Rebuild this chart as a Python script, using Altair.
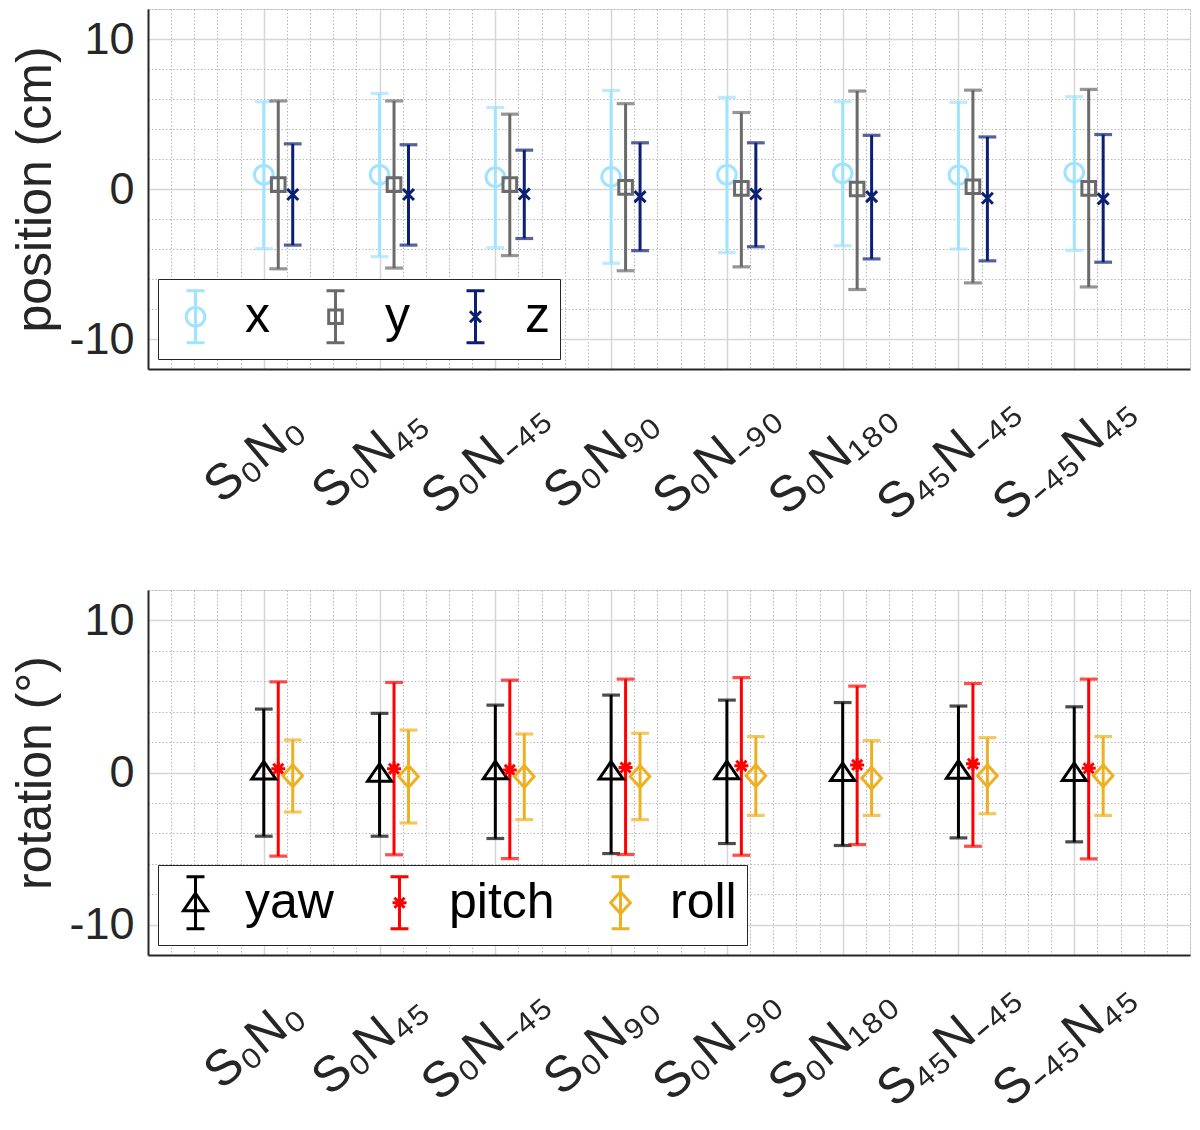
import json
import altair as alt
import pandas as pd

# ---------------- data ----------------
conditions = ["S₀N₀", "S₀N₄₅", "S₀N₋₄₅", "S₀N₉₀", "S₀N₋₉₀", "S₀N₁₈₀", "S₄₅N₋₄₅", "S₋₄₅N₄₅"]

pos_series = ["x", "y", "z"]
pos_x_mean = [0.95, 0.95, 0.79, 0.81, 0.95, 1.05, 0.92, 1.10]
pos_x_hi = [5.82, 6.37, 5.43, 6.57, 6.11, 5.82, 5.78, 6.15]
pos_x_lo = [-3.98, -4.51, -3.91, -4.95, -4.24, -3.78, -4.00, -4.09]
pos_y_mean = [0.29, 0.29, 0.29, 0.11, 0.04, 0.00, 0.15, 0.04]
pos_y_hi = [5.87, 5.87, 4.99, 5.69, 5.10, 6.53, 6.59, 6.64]
pos_y_lo = [-5.32, -5.27, -4.44, -5.45, -5.19, -6.70, -6.26, -6.53]
pos_z_mean = [-0.37, -0.37, -0.33, -0.51, -0.33, -0.51, -0.62, -0.66]
pos_z_hi = [3.01, 2.95, 2.59, 3.08, 3.08, 3.58, 3.47, 3.63]
pos_z_lo = [-3.74, -3.74, -3.30, -4.11, -3.85, -4.66, -4.79, -4.88]

rot_series = ["yaw", "pitch", "roll"]
yaw_mean = [0.10, -0.05, 0.12, 0.10, 0.12, 0.00, 0.15, 0.00]
yaw_hi = [4.17, 3.89, 4.43, 5.09, 4.76, 4.60, 4.37, 4.32]
yaw_lo = [-4.19, -4.19, -4.34, -5.33, -4.67, -4.80, -4.30, -4.56]
pitch_mean = [0.24, 0.24, 0.17, 0.33, 0.44, 0.50, 0.57, 0.28]
pitch_hi = [5.96, 5.92, 6.07, 6.14, 6.24, 5.68, 5.85, 6.14]
pitch_lo = [-5.50, -5.41, -5.66, -5.39, -5.44, -4.74, -4.85, -5.68]
roll_mean = [-0.22, -0.26, -0.26, -0.26, -0.22, -0.37, -0.22, -0.22]
roll_hi = [2.14, 2.79, 2.53, 2.58, 2.36, 2.10, 2.29, 2.36]
roll_lo = [-2.60, -3.32, -3.10, -3.10, -2.82, -2.82, -2.71, -2.82]

series_offsets = [0.0, 0.125, 0.25]

pos_colors = ["#A0E3FF", "#6A6A6A", "#0B1F73"]
rot_colors = ["#000000", "#FF0000", "#EDB120"]

FONT = "Liberation Sans"


# ---------------- marker paths (style) ----------------
def f(v):
    return f"{v:.3f}"


def circle_p(r, u):
    r = r / u
    return f"M{f(r)},0A{f(r)},{f(r)} 0 1,1 {f(-r)},0A{f(r)},{f(r)} 0 1,1 {f(r)},0Z"


def square_p(h, u):
    h = h / u
    return f"M{f(-h)},{f(-h)}H{f(h)}V{f(h)}H{f(-h)}Z"


def xmark_p(h, u):
    h = h / u
    return f"M{f(-h)},{f(-h)}L{f(h)},{f(h)}M{f(-h)},{f(h)}L{f(h)},{f(-h)}"


def tri_p(hw, top, bot, u):
    return f"M0,{f(top/u)}L{f(hw/u)},{f(bot/u)}L{f(-hw/u)},{f(bot/u)}Z"


def aster_p(h, u):
    d = h * 0.72 / u
    h = h / u
    return (f"M{f(-h)},0H{f(h)}M0,{f(-h)}V{f(h)}"
            f"M{f(-d)},{f(-d)}L{f(d)},{f(d)}M{f(-d)},{f(d)}L{f(d)},{f(-d)}")


def diamond_p(hw, hh, u):
    return f"M0,{f(-hh/u)}L{f(hw/u)},0L0,{f(hh/u)}L{f(-hw/u)},0Z"


def ebar_p(half, cap, u):
    h = half / u
    c = cap / u
    return f"M0,{f(-h)}V{f(h)}M{f(-c)},{f(-h)}H{f(c)}M{f(-c)},{f(h)}H{f(c)}"


U_PT = 12.0   # px per path unit for plot markers  (size = (2*U)^2)
U_LG = 26.0   # px per path unit for legend glyphs
PT_SIZE = (2 * U_PT) ** 2
LG_SIZE = (2 * U_LG) ** 2


def marker_defs(u):
    return {
        "x": circle_p(9.3, u),
        "y": square_p(6.8, u),
        "z": xmark_p(5.5, u),
        "yaw": tri_p(12.0, -9.5, 8.0, u),
        "pitch": aster_p(7.0, u),
        "roll": diamond_p(9.8, 11.0, u),
    }


pt_paths = marker_defs(U_PT)
lg_marks = marker_defs(U_LG)
lg_paths = {k: ebar_p(26.0, 9.0, U_LG) + v for k, v in lg_marks.items()}


# ---------------- build tables ----------------
def make_df(names, means, his, los):
    recs = []
    for si, s in enumerate(names):
        for ci, c in enumerate(conditions):
            recs.append({
                "series": s, "cond": c,
                "pos": ci + 1 + series_offsets[si],
                "mean": means[si][ci], "hi": his[si][ci], "lo": los[si][ci],
            })
    return pd.DataFrame(recs)


pos_df = make_df(pos_series, [pos_x_mean, pos_y_mean, pos_z_mean],
                 [pos_x_hi, pos_y_hi, pos_z_hi], [pos_x_lo, pos_y_lo, pos_z_lo])
rot_df = make_df(rot_series, [yaw_mean, pitch_mean, roll_mean],
                 [yaw_hi, pitch_hi, roll_hi], [yaw_lo, pitch_lo, roll_lo])

# ---------------- axes ----------------
label_arr = json.dumps(conditions, ensure_ascii=False)
x_label_expr = f"{label_arr}[datum.value - 1]"

x_minor_vals = [round(i * 0.2, 1) for i in range(46)]
y_minor_vals = list(range(-12, 13, 2))

x_scale = alt.Scale(domain=[0, 9], nice=False, zero=False)
y_scale = alt.Scale(domain=[-12, 12], nice=False, zero=False)

W = 1042


def panel(df, names, colors, ytitle, height):
    base = alt.Chart(df)
    cscale = alt.Scale(domain=names, range=colors)
    col = alt.Color("series:N", scale=cscale, legend=None)
    xq = alt.X("pos:Q", scale=x_scale, axis=None)

    leg = alt.Legend(
        title=None, orient="bottom-left", offset=10, direction="horizontal",
        fillColor="white", strokeColor="#262626", padding=10,
        labelFontSize=50, labelFont=FONT, labelColor="#000000", labelOffset=22,
        columnPadding=38, symbolSize=LG_SIZE, symbolStrokeWidth=3, symbolOpacity=1,
        labelLimit=400,
    )
    legend_layer = base.mark_point(opacity=0, filled=False, size=PT_SIZE, strokeWidth=3).encode(
        x=xq, y=alt.Y("mean:Q", scale=y_scale, axis=None),
        color=alt.Color("series:N", scale=cscale, legend=leg),
        shape=alt.Shape("series:N", scale=alt.Scale(domain=names, range=[lg_paths[s] for s in names]),
                        legend=leg),
    )

    minor = base.mark_point(opacity=0).encode(
        x=alt.X("pos:Q", scale=x_scale, axis=alt.Axis(
            orient="bottom", values=x_minor_vals, grid=True, gridDash=[1.5, 2],
            gridColor="#b8b8b8", gridWidth=1, labels=False, ticks=False, domain=False, title=None)),
        y=alt.Y("mean:Q", scale=y_scale, axis=alt.Axis(
            orient="left", values=y_minor_vals, grid=True, gridDash=[1.5, 2],
            gridColor="#b8b8b8", gridWidth=1, labels=False, ticks=False, domain=False, title=None)),
    )

    bars = base.mark_rule(strokeWidth=3).encode(
        x=alt.X("pos:Q", scale=x_scale, axis=alt.Axis(
            orient="bottom", values=list(range(1, 9)), labelExpr=x_label_expr,
            grid=True, gridColor="#d6d6d6", gridWidth=1.5, ticks=False,
            domain=True, domainColor="#262626", domainWidth=2,
            labelAngle=320, labelAlign="center", labelBaseline="middle",
            labelPadding=88, labelOffset=-10, labelFontSize=50, labelFont=FONT,
            labelColor="#262626", labelOverlap=False, labelFlush=False, title=None)),
        y=alt.Y("lo:Q", scale=y_scale, axis=alt.Axis(
            orient="left", values=[-10, 0, 10], labelExpr="'' + datum.value",
            grid=True, gridColor="#d6d6d6",
            gridWidth=1.5, ticks=False, domain=True, domainColor="#262626", domainWidth=2,
            labelFontSize=45, labelFont=FONT, labelColor="#262626", labelPadding=14,
            title=ytitle, titleFontSize=50, titleFont=FONT, titleFontWeight="normal",
            titleColor="#262626", titlePadding=8)),
        y2="hi:Q",
        color=col,
    )

    cap_hi = base.mark_tick(orient="horizontal", size=15, thickness=0.4, filled=False,
                            strokeWidth=2.8).encode(
        x=xq, y=alt.Y("hi:Q", scale=y_scale, axis=None), color=col)
    cap_lo = base.mark_tick(orient="horizontal", size=15, thickness=0.4, filled=False,
                            strokeWidth=2.8).encode(
        x=xq, y=alt.Y("lo:Q", scale=y_scale, axis=None), color=col)

    pts = []
    for s in names:
        pts.append(
            base.transform_filter(alt.datum.series == s)
            .mark_point(shape=pt_paths[s], size=PT_SIZE, filled=False, strokeWidth=3, opacity=1)
            .encode(x=xq, y=alt.Y("mean:Q", scale=y_scale, axis=None), color=col)
        )

    return alt.layer(legend_layer, minor, bars, cap_hi, cap_lo, *pts).resolve_axis(
        x="independent", y="independent"
    ).properties(width=W, height=height)


top = panel(pos_df, pos_series, pos_colors, "position (cm)", 360)
bottom = panel(rot_df, rot_series, rot_colors, "rotation (°)", 365)

chart = alt.vconcat(top, bottom, spacing=58).resolve_scale(
    color="independent", shape="independent"
).properties(
    padding={"left": 2, "top": 0, "right": 0, "bottom": 0}
).configure_view(strokeWidth=0).configure(font=FONT)

chart.save("out.html", embed_options={"renderer": "svg", "actions": False})
